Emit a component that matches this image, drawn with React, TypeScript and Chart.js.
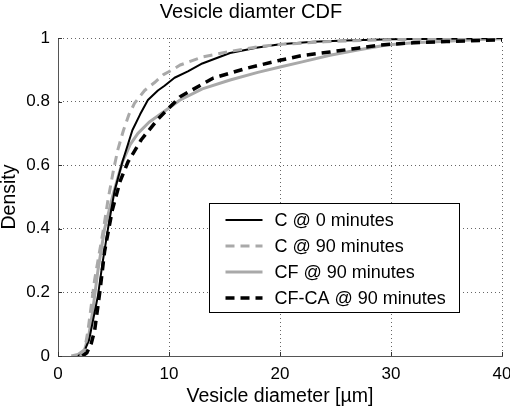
import { useEffect, useRef } from 'react';
import { Chart, registerables } from 'chart.js';

Chart.register(...registerables);

const chartTitle = 'Vesicle diamter CDF';
const xAxisLabel = 'Vesicle diameter [µm]';
const yAxisLabel = 'Density';
const xTicks = [0, 10, 20, 30, 40];
const xTickLabels = ['0', '10', '20', '30', '40'];
const yTicks = [0, 0.2, 0.4, 0.6, 0.8, 1];
const yTickLabels = ['0', '0.2', '0.4', '0.6', '0.8', '1'];
const seriesNames = ['C @ 0 minutes', 'C @ 90 minutes', 'CF @ 90 minutes', 'CF-CA @ 90 minutes'];

// C @ 0 minutes
const c0X = [1.8, 2.3, 2.8, 3.2, 3.6, 4.0, 4.5, 5.1, 5.8, 6.7, 7.4, 8.1, 9.0, 9.6, 10.5, 11.7, 13, 15.5, 18, 20, 23, 26, 30, 35, 40];
const c0Y = [0, 0.01, 0.05, 0.12, 0.19, 0.29, 0.40, 0.52, 0.61, 0.71, 0.76, 0.805, 0.835, 0.85, 0.875, 0.895, 0.92, 0.953, 0.97, 0.98, 0.988, 0.992, 0.996, 0.998, 1.0];
// C @ 90 minutes
const c90X = [2.0, 2.4, 2.7, 3.0, 3.3, 3.7, 4.1, 4.5, 5.0, 5.4, 5.9, 6.4, 6.9, 7.8, 8.7, 9.5, 10.3, 11, 13, 15.5, 18, 20, 24, 28, 32, 36, 40];
const c90Y = [0, 0.02, 0.08, 0.16, 0.24, 0.32, 0.40, 0.49, 0.585, 0.65, 0.71, 0.76, 0.795, 0.835, 0.86, 0.885, 0.90, 0.915, 0.94, 0.958, 0.972, 0.98, 0.988, 0.993, 0.996, 0.998, 1.0];
// CF @ 90 minutes
const cfX = [1.2, 1.8, 2.4, 2.8, 3.1, 3.6, 4.2, 4.9, 5.8, 6.5, 7.2, 8.2, 9.4, 11, 13, 15.5, 18, 20, 22, 24.5, 27, 29.6, 32, 35, 38, 40];
const cfY = [0, 0.005, 0.02, 0.07, 0.135, 0.27, 0.40, 0.50, 0.61, 0.665, 0.70, 0.735, 0.765, 0.805, 0.84, 0.868, 0.892, 0.909, 0.925, 0.946, 0.962, 0.978, 0.985, 0.99, 0.995, 0.998];
// CF-CA @ 90 minutes
const cfcaX = [2.2, 2.6, 3.0, 3.3, 3.8, 4.2, 4.9, 5.6, 6.3, 7.5, 9.0, 11, 13, 14, 17, 20, 22, 24.5, 27, 29, 32, 35, 38, 40];
const cfcaY = [0, 0.01, 0.04, 0.08, 0.21, 0.33, 0.46, 0.55, 0.61, 0.68, 0.745, 0.815, 0.855, 0.874, 0.905, 0.93, 0.945, 0.956, 0.968, 0.978, 0.985, 0.989, 0.992, 0.994];

const GREY = '#a9a9a9';
const styles = [
  { color: '#000000', width: 2, dash: [] as number[] },
  { color: GREY, width: 3, dash: [9, 6] },
  { color: GREY, width: 3, dash: [] as number[] },
  { color: '#000000', width: 3.5, dash: [9, 6] },
];

const toPoints = (xs: number[], ys: number[]) => xs.map((x, i) => ({ x, y: ys[i] }));

const FONT = "'Liberation Sans', Arial, Helvetica, sans-serif";

const overlayPlugin = {
  id: 'overlay',
  afterDraw(chart: any) {
    const { ctx, chartArea, scales } = chart;
    ctx.save();
    // inward tick marks
    ctx.strokeStyle = '#333';
    ctx.lineWidth = 1;
    ctx.setLineDash([]);
    xTicks.forEach((v) => {
      const px = Math.round(scales.x.getPixelForValue(v)) + 0.5;
      ctx.beginPath();
      ctx.moveTo(px, chartArea.bottom);
      ctx.lineTo(px, chartArea.bottom - 4);
      ctx.stroke();
    });
    yTicks.forEach((v) => {
      const py = Math.round(scales.y.getPixelForValue(v)) + 0.5;
      ctx.beginPath();
      ctx.moveTo(chartArea.left, py);
      ctx.lineTo(chartArea.left + 4, py);
      ctx.stroke();
    });

    // legend box
    const bx = Math.round(chartArea.right - 293) + 0.5;
    const by = Math.round(chartArea.bottom - 153) + 0.5;
    const bw = 250;
    const bh = 109;
    ctx.fillStyle = '#fff';
    ctx.fillRect(bx, by, bw, bh);
    ctx.strokeStyle = '#000';
    ctx.lineWidth = 1;
    ctx.strokeRect(bx, by, bw, bh);
    ctx.font = `18px ${FONT}`;
    ctx.textBaseline = 'middle';
    ctx.textAlign = 'left';
    seriesNames.forEach((name, i) => {
      const cy = by + 16.5 + i * 26;
      const s = styles[i];
      ctx.strokeStyle = s.color;
      ctx.lineWidth = s.width;
      ctx.setLineDash(s.dash);
      ctx.beginPath();
      ctx.moveTo(bx + 16, cy);
      ctx.lineTo(bx + 53, cy);
      ctx.stroke();
      ctx.setLineDash([]);
      ctx.fillStyle = '#000';
      ctx.fillText(name, bx + 65, cy + 1);
    });
    ctx.restore();
  },
};

export default function App() {
  const canvasRef = useRef<HTMLCanvasElement | null>(null);

  useEffect(() => {
    document.body.style.margin = '0';
    const canvas = canvasRef.current;
    if (!canvas) return;
    Chart.defaults.font.family = FONT;
    Chart.defaults.color = '#000';

    const seriesData = [
      toPoints(c0X, c0Y),
      toPoints(c90X, c90Y),
      toPoints(cfX, cfY),
      toPoints(cfcaX, cfcaY),
    ];
    // draw order: grey ones first, then black
    const order = [2, 1, 3, 0];

    const chart = new Chart(canvas, {
      type: 'line',
      data: {
        datasets: seriesNames.map((name, i) => ({
          label: name,
          data: seriesData[i],
          borderColor: styles[i].color,
          borderWidth: styles[i].width,
          borderDash: styles[i].dash,
          pointRadius: 0,
          tension: 0,
          fill: false,
          order: order[i],
          borderCapStyle: 'butt',
          borderJoinStyle: 'round',
        })),
      },
      options: {
        responsive: false,
        animation: false,
        layout: { padding: { left: 0, right: 8, top: 0, bottom: 0 } },
        plugins: {
          legend: { display: false },
          tooltip: { enabled: false },
          title: {
            display: true,
            text: chartTitle,
            color: '#000',
            font: { size: 20, weight: 'normal', lineHeight: 1 },
            padding: { top: 2, bottom: 16 },
          },
        },
        scales: {
          x: {
            type: 'linear',
            min: 0,
            max: 40,
            afterBuildTicks: (s: any) => {
              s.ticks = xTicks.map((v) => ({ value: v }));
            },
            afterFit: (s: any) => {
              s.height = 50;
              s.paddingLeft = 0;
              s.paddingRight = 0;
            },
            ticks: {
              autoSkip: false,
              maxRotation: 0,
              padding: 8,
              font: { size: 17 },
              color: '#000',
              callback: (_v: any, i: number) => xTickLabels[i],
            },
            grid: { color: '#666', drawTicks: false, lineWidth: 1 },
            border: { display: true, color: '#555', width: 1, dash: [1, 3] },
            title: {
              display: true,
              text: xAxisLabel,
              font: { size: 19.5, lineHeight: 1 },
              color: '#000',
              padding: { top: 0, bottom: 0 },
            },
          },
          y: {
            type: 'linear',
            min: 0,
            max: 1,
            afterBuildTicks: (s: any) => {
              s.ticks = yTicks.map((v) => ({ value: v }));
            },
            afterFit: (s: any) => {
              s.width = 58;
              s.paddingTop = 0;
              s.paddingBottom = 0;
            },
            ticks: {
              autoSkip: false,
              padding: 8,
              font: { size: 17 },
              color: '#000',
              callback: (_v: any, i: number) => yTickLabels[i],
            },
            grid: { color: '#666', drawTicks: false, lineWidth: 1 },
            border: { display: true, color: '#555', width: 1, dash: [1, 3] },
            title: {
              display: true,
              text: yAxisLabel,
              font: { size: 19.5, lineHeight: 1 },
              color: '#000',
              padding: { top: 0, bottom: 0 },
            },
          },
        },
      },
      plugins: [overlayPlugin],
    } as any);

    return () => chart.destroy();
  }, []);

  return (
    <div style={{ width: 510, height: 406, background: '#fff' }}>
      <canvas ref={canvasRef} width={510} height={406} style={{ display: 'block' }} />
    </div>
  );
}
